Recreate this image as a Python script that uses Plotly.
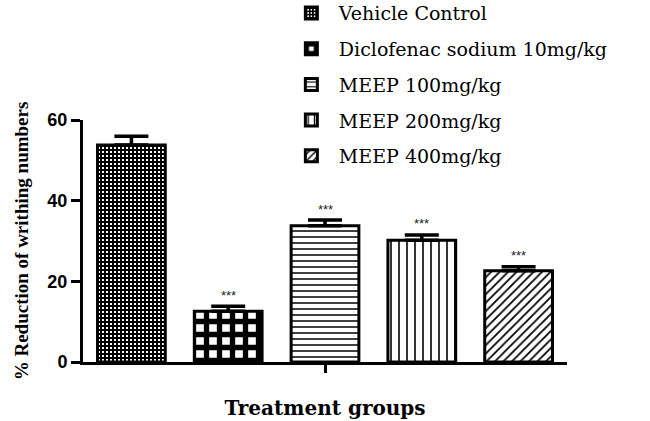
import plotly.graph_objects as go

groups = ["Vehicle Control", "Diclofenac sodium 10mg/kg", "MEEP 100mg/kg",
          "MEEP 200mg/kg", "MEEP 400mg/kg"]
values = [53.8, 12.6, 33.8, 30.2, 22.6]
errors = [2.2, 1.2, 1.4, 1.3, 1.0]
signif = ["", "***", "***", "***", "***"]
patterns = [
    dict(shape="+", size=4, solidity=0.75),
    dict(shape="+", size=13, solidity=0.65),
    dict(shape="-", size=6, solidity=0.25),
    dict(shape="|", size=8, solidity=0.2),
    dict(shape="/", size=6, solidity=0.3),
]

fig = go.Figure()
for i, g in enumerate(groups):
    p = patterns[i]
    fig.add_trace(go.Bar(
        x=[i], y=[values[i]], name=g, width=0.7,
        legendgroup=g,
        marker=dict(color="white", line=dict(color="black", width=3),
                    pattern=dict(shape=p["shape"], size=p["size"], solidity=p["solidity"],
                                 fgcolor="black", bgcolor="white", fillmode="replace")),
        error_y=dict(type="data", array=[errors[i]], arrayminus=[0], symmetric=False,
                     color="black", thickness=3.5, width=17),
    ))
    if signif[i]:
        fig.add_annotation(x=i, y=values[i] + errors[i], text=signif[i], showarrow=False,
                           yshift=11, font=dict(family="Liberation Sans", size=13, color="#222"))

fig.update_layout(
    width=650, height=421,
    margin=dict(l=83, r=83, t=120, b=59, autoexpand=False),
    plot_bgcolor="white", paper_bgcolor="white",
    showlegend=True,
    legend=dict(x=0.415, y=1.52, xanchor="left", yanchor="top", itemwidth=45,
                font=dict(family="DejaVu Serif", size=19, color="black"),
                tracegroupgap=8, bgcolor="rgba(0,0,0,0)"),
    xaxis=dict(range=[-0.5, 4.5], tickvals=[2], ticktext=[""], ticks="outside",
               ticklen=8, tickwidth=2.5, tickcolor="black", automargin=False,
               showline=True, linecolor="black", linewidth=2.5, showgrid=False, zeroline=False,
               title=dict(text="<b>Treatment groups</b>", standoff=27,
                          font=dict(family="DejaVu Serif", size=20, color="black"))),
    yaxis=dict(range=[0, 60], tickvals=[0, 20, 40, 60], ticks="outside", automargin=False,
               ticklen=9, tickwidth=3, tickcolor="black",
               showline=True, linecolor="black", linewidth=3, showgrid=False, zeroline=False,
               tickfont=dict(family="Liberation Sans", size=18, color="black", weight="bold"),
               title=dict(text="<b>% Reduction of writhing numbers</b>", standoff=14,
                          font=dict(family="Liberation Serif", size=19, color="black"))),
)

fig.write_html("out.html", config={"displayModeBar": False},
               post_script="document.body.style.margin='0';")
